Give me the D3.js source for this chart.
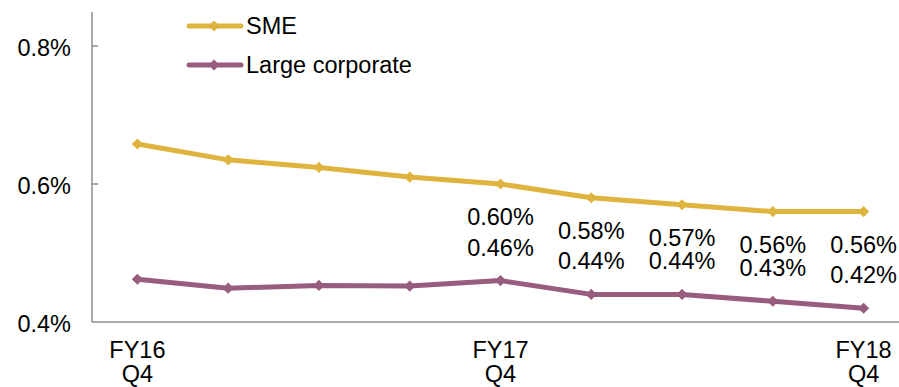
<!DOCTYPE html>
<html>
<head>
<meta charset="utf-8">
<script src="https://cdn.jsdelivr.net/npm/d3@7"></script>
<style>
  html, body { margin: 0; padding: 0; background: #fff; }
  svg { display: block; font-family: "Liberation Sans", Arial, sans-serif; }
</style>
</head>
<body>
<svg id="chart" width="899" height="387"></svg>
<script>
// Quarterly ratios (%), FY16 Q4 through FY18 Q4
const quarters = ["FY16 Q4", "FY17 Q1", "FY17 Q2", "FY17 Q3", "FY17 Q4", "FY18 Q1", "FY18 Q2", "FY18 Q3", "FY18 Q4"];
const quarterLabels = [["FY16", "Q4"], null, null, null, ["FY17", "Q4"], null, null, null, ["FY18", "Q4"]];
const smeValues = [0.658, 0.635, 0.624, 0.610, 0.60, 0.58, 0.57, 0.56, 0.56];
const largeValues = [0.462, 0.449, 0.453, 0.452, 0.46, 0.44, 0.44, 0.43, 0.42];
const labelledFrom = 4; // data labels start at FY17 Q4
const yTicks = [0.4, 0.6, 0.8];

const series = [
  { name: "SME", values: smeValues, color: "#DFB43E", labelDy: 41 },
  { name: "Large corporate", values: largeValues, color: "#985C7F", labelDy: -25 }
];

const fontSize = 23.5;
const svg = d3.select("#chart");
const axisColor = "#8c8c8c";

const x = d3.scalePoint().domain(quarters).range([92, 909]).padding(0.5);
const y = d3.scaleLinear().domain([0.4, 0.8]).range([322, 46]);

// y axis: ticks point inward, labels on the left
const yAxis = svg.append("g").attr("transform", "translate(92,0)");
yAxis.append("line").attr("x1", 0).attr("x2", 0).attr("y1", 12).attr("y2", 322)
  .attr("stroke", axisColor).attr("stroke-width", 1.5);
yAxis.selectAll("line.tick").data(yTicks.filter(t => t > 0.4)).join("line")
  .attr("class", "tick")
  .attr("x1", 0).attr("x2", 6)
  .attr("y1", d => y(d)).attr("y2", d => y(d))
  .attr("stroke", axisColor).attr("stroke-width", 1.5);
yAxis.selectAll("text").data(yTicks).join("text")
  .attr("x", -21).attr("y", d => y(d) + 10)
  .attr("text-anchor", "end").attr("font-size", fontSize).attr("fill", "#000")
  .text(d => d3.format(".1f")(d) + "%");

// x axis baseline
svg.append("line").attr("x1", 92).attr("x2", 899).attr("y1", 322).attr("y2", 322)
  .attr("stroke", axisColor).attr("stroke-width", 1.5);

// x category labels (two lines)
const xl = svg.append("g");
quarters.forEach((q, i) => {
  const lab = quarterLabels[i];
  if (!lab) return;
  const t = xl.append("text").attr("text-anchor", "middle").attr("font-size", fontSize).attr("fill", "#000");
  lab.forEach((line, j) => {
    t.append("tspan").attr("x", x(q)).attr("y", 358 + j * 24).text(line);
  });
});

const line = d3.line().x((d, i) => x(quarters[i])).y(d => y(d));
// diamond marker: a square turned 45 degrees
const marker = d3.symbol().type(d3.symbolSquare).size(62);

series.forEach(s => {
  svg.append("path").datum(s.values)
    .attr("d", line).attr("fill", "none")
    .attr("stroke", s.color).attr("stroke-width", 5)
    .attr("stroke-linejoin", "round");
  svg.append("g").selectAll("path").data(s.values).join("path")
    .attr("d", marker)
    .attr("transform", (d, i) => `translate(${x(quarters[i])},${y(d)}) rotate(45)`)
    .attr("fill", s.color);
  svg.append("g").selectAll("text")
    .data(s.values.map((v, i) => ({ v, i })).filter(d => d.i >= labelledFrom))
    .join("text")
    .attr("x", d => x(quarters[d.i]))
    .attr("y", d => y(d.v) + s.labelDy)
    .attr("text-anchor", "middle").attr("font-size", fontSize).attr("fill", "#000")
    .text(d => d3.format(".2f")(d.v) + "%");
});

// legend
const legend = svg.append("g");
series.forEach((s, i) => {
  const ly = 26 + i * 39;
  legend.append("line").attr("x1", 189).attr("x2", 241).attr("y1", ly).attr("y2", ly)
    .attr("stroke", s.color).attr("stroke-width", 5).attr("stroke-linecap", "round");
  legend.append("path").attr("d", marker).attr("transform", `translate(214,${ly}) rotate(45)`).attr("fill", s.color);
  legend.append("text").attr("x", 246).attr("y", ly + 7.5)
    .attr("font-size", fontSize).attr("fill", "#000").text(s.name);
});
</script>
</body>
</html>
